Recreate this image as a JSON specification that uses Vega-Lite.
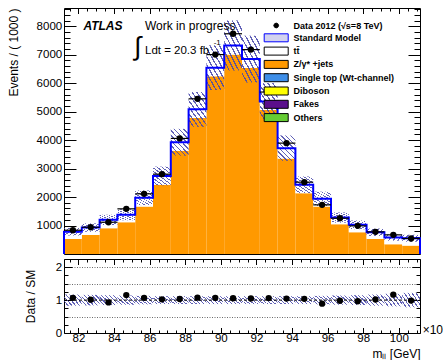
{
  "$schema": "https://vega.github.io/schema/vega-lite/v6.json",
  "background": "white",
  "padding": {"left": 6, "top": 7, "right": 0, "bottom": 0},
  "spacing": -1.5,
  "config": {
    "font": "Liberation Sans",
    "view": {"stroke": "black", "strokeWidth": 1},
    "axis": {
      "domain": false, "grid": false, "zindex": 1,
      "tickColor": "black", "tickWidth": 1,
      "labelFont": "Liberation Sans", "labelFontSize": 11.5, "labelColor": "black",
      "labelFlush": false, "labelOverlap": false,
      "titleFont": "Liberation Sans", "titleFontSize": 12, "titleFontWeight": "normal", "titleColor": "black"
    }
  },
  "resolve": {"legend": {"color": "independent", "shape": "independent", "stroke": "independent"}, "scale": {"color": "independent", "shape": "independent", "stroke": "independent"}},
  "datasets": {
    "bins": [
      {"lo": 81.19, "hi": 82.19, "c": 81.69, "data": 835, "sm": 782, "zj": 530, "smLo": 649, "smHi": 915, "ratio": 1.068, "rLo": 0.83, "rHi": 1.17},
      {"lo": 82.19, "hi": 83.19, "c": 82.69, "data": 940, "sm": 928, "zj": 671, "smLo": 780, "smHi": 1076, "ratio": 1.013, "rLo": 0.84, "rHi": 1.16},
      {"lo": 83.19, "hi": 84.19, "c": 83.69, "data": 1116, "sm": 1199, "zj": 905, "smLo": 1019, "smHi": 1379, "ratio": 0.931, "rLo": 0.85, "rHi": 1.15},
      {"lo": 84.19, "hi": 85.19, "c": 84.69, "data": 1586, "sm": 1375, "zj": 1116, "smLo": 1183, "smHi": 1568, "ratio": 1.153, "rLo": 0.86, "rHi": 1.14},
      {"lo": 85.19, "hi": 86.19, "c": 85.69, "data": 2114, "sm": 1975, "zj": 1667, "smLo": 1718, "smHi": 2232, "ratio": 1.070, "rLo": 0.87, "rHi": 1.13},
      {"lo": 86.19, "hi": 87.19, "c": 86.69, "data": 2803, "sm": 2740, "zj": 2430, "smLo": 2411, "smHi": 3069, "ratio": 1.023, "rLo": 0.88, "rHi": 1.12},
      {"lo": 87.19, "hi": 88.19, "c": 87.69, "data": 4059, "sm": 3925, "zj": 3626, "smLo": 3454, "smHi": 4396, "ratio": 1.034, "rLo": 0.88, "rHi": 1.12},
      {"lo": 88.19, "hi": 89.19, "c": 88.69, "data": 5450, "sm": 5080, "zj": 4780, "smLo": 4470, "smHi": 5690, "ratio": 1.073, "rLo": 0.88, "rHi": 1.12},
      {"lo": 89.19, "hi": 90.19, "c": 89.69, "data": 7003, "sm": 6545, "zj": 6240, "smLo": 5760, "smHi": 7330, "ratio": 1.070, "rLo": 0.88, "rHi": 1.12},
      {"lo": 90.19, "hi": 91.19, "c": 90.69, "data": 7735, "sm": 7325, "zj": 7003, "smLo": 6446, "smHi": 8204, "ratio": 1.056, "rLo": 0.88, "rHi": 1.12},
      {"lo": 91.19, "hi": 92.19, "c": 91.69, "data": 7179, "sm": 6845, "zj": 6532, "smLo": 6024, "smHi": 7666, "ratio": 1.049, "rLo": 0.88, "rHi": 1.12},
      {"lo": 92.19, "hi": 93.19, "c": 92.69, "data": 5688, "sm": 5360, "zj": 5060, "smLo": 4717, "smHi": 6003, "ratio": 1.061, "rLo": 0.88, "rHi": 1.12},
      {"lo": 93.19, "hi": 94.19, "c": 93.69, "data": 3894, "sm": 3718, "zj": 3350, "smLo": 3272, "smHi": 4164, "ratio": 1.047, "rLo": 0.88, "rHi": 1.12},
      {"lo": 94.19, "hi": 95.19, "c": 94.69, "data": 2523, "sm": 2431, "zj": 2135, "smLo": 2139, "smHi": 2723, "ratio": 1.038, "rLo": 0.88, "rHi": 1.12},
      {"lo": 95.19, "hi": 96.19, "c": 95.69, "data": 1726, "sm": 1937, "zj": 1667, "smLo": 1685, "smHi": 2189, "ratio": 0.891, "rLo": 0.87, "rHi": 1.13},
      {"lo": 96.19, "hi": 97.19, "c": 96.69, "data": 1256, "sm": 1280, "zj": 1045, "smLo": 1101, "smHi": 1459, "ratio": 0.981, "rLo": 0.86, "rHi": 1.14},
      {"lo": 97.19, "hi": 98.19, "c": 97.69, "data": 988, "sm": 1023, "zj": 764, "smLo": 870, "smHi": 1176, "ratio": 0.966, "rLo": 0.85, "rHi": 1.15},
      {"lo": 98.19, "hi": 99.19, "c": 98.69, "data": 778, "sm": 764, "zj": 531, "smLo": 634, "smHi": 894, "ratio": 1.018, "rLo": 0.83, "rHi": 1.17},
      {"lo": 99.19, "hi": 100.19, "c": 99.69, "data": 672, "sm": 577, "zj": 342, "smLo": 467, "smHi": 687, "ratio": 1.165, "rLo": 0.81, "rHi": 1.19},
      {"lo": 100.19, "hi": 101.19, "c": 100.69, "data": 545, "sm": 553, "zj": 295, "smLo": 431, "smHi": 675, "ratio": 0.986, "rLo": 0.78, "rHi": 1.22}
    ],
    "outline": [
      {"k": 0, "edge": 81.19, "sm": 0},
      {"k": 1, "edge": 81.19, "sm": 782},
      {"k": 2, "edge": 82.19, "sm": 928},
      {"k": 3, "edge": 83.19, "sm": 1199},
      {"k": 4, "edge": 84.19, "sm": 1375},
      {"k": 5, "edge": 85.19, "sm": 1975},
      {"k": 6, "edge": 86.19, "sm": 2740},
      {"k": 7, "edge": 87.19, "sm": 3925},
      {"k": 8, "edge": 88.19, "sm": 5080},
      {"k": 9, "edge": 89.19, "sm": 6545},
      {"k": 10, "edge": 90.19, "sm": 7325},
      {"k": 11, "edge": 91.19, "sm": 6845},
      {"k": 12, "edge": 92.19, "sm": 5360},
      {"k": 13, "edge": 93.19, "sm": 3718},
      {"k": 14, "edge": 94.19, "sm": 2431},
      {"k": 15, "edge": 95.19, "sm": 1937},
      {"k": 16, "edge": 96.19, "sm": 1280},
      {"k": 17, "edge": 97.19, "sm": 1023},
      {"k": 18, "edge": 98.19, "sm": 764},
      {"k": 19, "edge": 99.19, "sm": 577},
      {"k": 20, "edge": 100.19, "sm": 553},
      {"k": 21, "edge": 101.19, "sm": 553},
      {"k": 22, "edge": 101.19, "sm": 0}
    ],
    "processes": [
      {"name": "Data 2012 (√s=8 TeV)"},
      {"name": "Standard Model"},
      {"name": "tt̄"},
      {"name": "Z/γ* +jets"},
      {"name": "Single top (Wt-channel)"},
      {"name": "Diboson"},
      {"name": "Fakes"},
      {"name": "Others"}
    ]
  },
  "vconcat": [
    {
      "width": 356,
      "height": 246,
      "resolve": {"axis": {"x": "independent", "y": "independent"}},
      "layer": [
        {
          "data": {"name": "bins"},
          "mark": {"type": "rect", "fill": "#ff9900"},
          "encoding": {
            "x": {"field": "lo", "type": "quantitative", "scale": {"domain": [81.19, 101.19], "nice": false, "zero": false}, "axis": null},
            "x2": {"field": "hi"},
            "y": {"field": "zj", "type": "quantitative", "scale": {"domain": [0, 8640], "nice": false}, "axis": null},
            "y2": {"datum": 0}
          }
        },
        {
          "data": {"name": "bins"},
          "mark": {"type": "rect", "fill": "white"},
          "encoding": {
            "x": {"field": "lo", "type": "quantitative", "axis": null},
            "x2": {"field": "hi"},
            "y": {"field": "sm", "type": "quantitative", "axis": null},
            "y2": {"field": "zj"}
          }
        },
        {
          "data": {"name": "bins"},
          "mark": {
            "type": "rect",
            "fill": {
              "gradient": "linear", "x1": 0.15, "y1": 1, "x2": 0.85, "y2": 0,
              "stops": [
                {"offset": 0, "color": "rgba(255,255,255,0)"},
                {"offset": 0.04375, "color": "rgba(255,255,255,0)"}, {"offset": 0.04375, "color": "rgba(70,70,170,0.85)"}, {"offset": 0.08125, "color": "rgba(70,70,170,0.85)"}, {"offset": 0.08125, "color": "rgba(255,255,255,0)"},
                {"offset": 0.16875, "color": "rgba(255,255,255,0)"}, {"offset": 0.16875, "color": "rgba(70,70,170,0.85)"}, {"offset": 0.20625, "color": "rgba(70,70,170,0.85)"}, {"offset": 0.20625, "color": "rgba(255,255,255,0)"},
                {"offset": 0.29375, "color": "rgba(255,255,255,0)"}, {"offset": 0.29375, "color": "rgba(70,70,170,0.85)"}, {"offset": 0.33125, "color": "rgba(70,70,170,0.85)"}, {"offset": 0.33125, "color": "rgba(255,255,255,0)"},
                {"offset": 0.41875, "color": "rgba(255,255,255,0)"}, {"offset": 0.41875, "color": "rgba(70,70,170,0.85)"}, {"offset": 0.45625, "color": "rgba(70,70,170,0.85)"}, {"offset": 0.45625, "color": "rgba(255,255,255,0)"},
                {"offset": 0.54375, "color": "rgba(255,255,255,0)"}, {"offset": 0.54375, "color": "rgba(70,70,170,0.85)"}, {"offset": 0.58125, "color": "rgba(70,70,170,0.85)"}, {"offset": 0.58125, "color": "rgba(255,255,255,0)"},
                {"offset": 0.66875, "color": "rgba(255,255,255,0)"}, {"offset": 0.66875, "color": "rgba(70,70,170,0.85)"}, {"offset": 0.70625, "color": "rgba(70,70,170,0.85)"}, {"offset": 0.70625, "color": "rgba(255,255,255,0)"},
                {"offset": 0.79375, "color": "rgba(255,255,255,0)"}, {"offset": 0.79375, "color": "rgba(70,70,170,0.85)"}, {"offset": 0.83125, "color": "rgba(70,70,170,0.85)"}, {"offset": 0.83125, "color": "rgba(255,255,255,0)"},
                {"offset": 0.91875, "color": "rgba(255,255,255,0)"}, {"offset": 0.91875, "color": "rgba(70,70,170,0.85)"}, {"offset": 0.95625, "color": "rgba(70,70,170,0.85)"}, {"offset": 0.95625, "color": "rgba(255,255,255,0)"},
                {"offset": 1, "color": "rgba(255,255,255,0)"}
              ]
            }
          },
          "encoding": {
            "x": {"field": "lo", "type": "quantitative", "axis": null},
            "x2": {"field": "hi"},
            "y": {"field": "smLo", "type": "quantitative", "axis": null},
            "y2": {"field": "smHi"}
          }
        },
        {
          "data": {"name": "outline"},
          "mark": {"type": "line", "interpolate": "step-after", "stroke": "#0000ff", "strokeWidth": 2},
          "encoding": {
            "x": {"field": "edge", "type": "quantitative", "axis": null},
            "y": {"field": "sm", "type": "quantitative", "axis": null},
            "order": {"field": "k", "type": "quantitative"}
          }
        },
        {
          "data": {"name": "bins"},
          "mark": {"type": "rule", "stroke": "black", "strokeWidth": 1.2},
          "encoding": {
            "x": {"field": "lo", "type": "quantitative", "axis": null},
            "x2": {"field": "hi"},
            "y": {"field": "data", "type": "quantitative", "axis": null}
          }
        },
        {
          "data": {"name": "bins"},
          "mark": {"type": "circle", "size": 40, "fill": "black", "opacity": 1},
          "encoding": {
            "x": {"field": "c", "type": "quantitative", "axis": null},
            "y": {"field": "data", "type": "quantitative", "axis": null}
          }
        },
        {
          "data": {"name": "bins"},
          "mark": {"type": "point", "opacity": 0},
          "encoding": {
            "x": {"field": "c", "type": "quantitative", "axis": {"orient": "bottom", "values": [82, 84, 86, 88, 90, 92, 94, 96, 98, 100], "labels": false, "tickSize": -5.5, "title": null, "minExtent": 0, "maxExtent": 0}},
            "y": {"field": "sm", "type": "quantitative", "axis": {"orient": "left", "values": [1000, 2000, 3000, 4000, 5000, 6000, 7000, 8000], "format": "d", "tickSize": -12, "labelPadding": 14.3, "title": "Events / ( 1000 )", "titleX": -51, "titleY": 0, "titleAlign": "right", "titleBaseline": "middle"}}
          }
        },
        {
          "data": {"name": "bins"},
          "mark": {"type": "point", "opacity": 0},
          "encoding": {
            "x": {"field": "c", "type": "quantitative", "axis": {"orient": "bottom", "values": [81.5, 82, 82.5, 83, 83.5, 84, 84.5, 85, 85.5, 86, 86.5, 87, 87.5, 88, 88.5, 89, 89.5, 90, 90.5, 91, 91.5, 92, 92.5, 93, 93.5, 94, 94.5, 95, 95.5, 96, 96.5, 97, 97.5, 98, 98.5, 99, 99.5, 100, 100.5, 101], "labels": false, "tickSize": -3, "title": null, "minExtent": 0, "maxExtent": 0}},
            "y": {"field": "sm", "type": "quantitative", "axis": {"orient": "left", "values": [200, 400, 600, 800, 1000, 1200, 1400, 1600, 1800, 2000, 2200, 2400, 2600, 2800, 3000, 3200, 3400, 3600, 3800, 4000, 4200, 4400, 4600, 4800, 5000, 5200, 5400, 5600, 5800, 6000, 6200, 6400, 6600, 6800, 7000, 7200, 7400, 7600, 7800, 8000, 8200, 8400, 8600], "labels": false, "tickSize": -6, "title": null, "minExtent": 0, "maxExtent": 0}}
          }
        },
        {
          "data": {"name": "bins"},
          "mark": {"type": "point", "opacity": 0},
          "encoding": {
            "x": {"field": "c", "type": "quantitative", "axis": {"orient": "top", "values": [82, 84, 86, 88, 90, 92, 94, 96, 98, 100], "labels": false, "tickSize": -5.5, "title": null, "minExtent": 0, "maxExtent": 0}},
            "y": {"field": "sm", "type": "quantitative", "axis": {"orient": "right", "values": [1000, 2000, 3000, 4000, 5000, 6000, 7000, 8000], "labels": false, "tickSize": -12, "title": null, "minExtent": 0, "maxExtent": 0}}
          }
        },
        {
          "data": {"name": "bins"},
          "mark": {"type": "point", "opacity": 0},
          "encoding": {
            "x": {"field": "c", "type": "quantitative", "axis": {"orient": "top", "values": [81.5, 82, 82.5, 83, 83.5, 84, 84.5, 85, 85.5, 86, 86.5, 87, 87.5, 88, 88.5, 89, 89.5, 90, 90.5, 91, 91.5, 92, 92.5, 93, 93.5, 94, 94.5, 95, 95.5, 96, 96.5, 97, 97.5, 98, 98.5, 99, 99.5, 100, 100.5, 101], "labels": false, "tickSize": -3, "title": null, "minExtent": 0, "maxExtent": 0}},
            "y": {"field": "sm", "type": "quantitative", "axis": {"orient": "right", "values": [200, 400, 600, 800, 1000, 1200, 1400, 1600, 1800, 2000, 2200, 2400, 2600, 2800, 3000, 3200, 3400, 3600, 3800, 4000, 4200, 4400, 4600, 4800, 5000, 5200, 5400, 5600, 5800, 6000, 6200, 6400, 6600, 6800, 7000, 7200, 7400, 7600, 7800, 8000, 8200, 8400, 8600], "labels": false, "tickSize": -6, "title": null, "minExtent": 0, "maxExtent": 0}}
          }
        },
        {
          "data": {"name": "processes"},
          "mark": {"type": "point", "filled": true, "opacity": 0},
          "encoding": {
            "x": {"datum": 90, "type": "quantitative", "axis": null},
            "y": {"datum": 4000, "type": "quantitative", "axis": null},
            "color": {
              "field": "name", "type": "nominal",
              "scale": {
                "domain": ["Data 2012 (√s=8 TeV)", "Standard Model", "tt̄", "Z/γ* +jets", "Single top (Wt-channel)", "Diboson", "Fakes", "Others"],
                "range": ["black", "#d2d2ee", "white", "#ff9900", "#3e8ee8", "#ffff00", "#5b0f8c", "#66cc33"]
              },
              "legend": {
                "orient": "none", "legendX": 207.7, "legendY": 13, "title": null, "padding": 0,
                "labelFont": "Liberation Sans", "labelFontSize": 9, "labelFontWeight": "bold", "labelColor": "black",
                "labelOffset": 12.7, "labelLimit": 250, "rowPadding": 0.3,
                "symbolOpacity": 1, "symbolSize": 64, "symbolStrokeWidth": 1
              }
            },
            "shape": {
              "field": "name", "type": "nominal",
              "scale": {
                "domain": ["Data 2012 (√s=8 TeV)", "Standard Model", "tt̄", "Z/γ* +jets", "Single top (Wt-channel)", "Diboson", "Fakes", "Others"],
                "range": ["M-0.6,0L-0.42,-0.42L0,-0.6L0.42,-0.42L0.6,0L0.42,0.42L0,0.6L-0.42,0.42Z", "M-3,-1H3V1H-3Z", "M-3,-1H3V1H-3Z", "M-3,-1H3V1H-3Z", "M-3,-1H3V1H-3Z", "M-3,-1H3V1H-3Z", "M-3,-1H3V1H-3Z", "M-3,-1H3V1H-3Z"]
              },
              "legend": {
                "orient": "none", "legendX": 207.7, "legendY": 13, "title": null, "padding": 0,
                "labelFont": "Liberation Sans", "labelFontSize": 9, "labelFontWeight": "bold", "labelColor": "black",
                "labelOffset": 12.7, "labelLimit": 250, "rowPadding": 0.3,
                "symbolOpacity": 1, "symbolSize": 64, "symbolStrokeWidth": 1
              }
            },
            "stroke": {
              "field": "name", "type": "nominal",
              "scale": {
                "domain": ["Data 2012 (√s=8 TeV)", "Standard Model", "tt̄", "Z/γ* +jets", "Single top (Wt-channel)", "Diboson", "Fakes", "Others"],
                "range": ["black", "#0000ff", "black", "black", "black", "black", "black", "black"]
              },
              "legend": {
                "orient": "none", "legendX": 207.7, "legendY": 13, "title": null, "padding": 0,
                "labelFont": "Liberation Sans", "labelFontSize": 9, "labelFontWeight": "bold", "labelColor": "black",
                "labelOffset": 12.7, "labelLimit": 250, "rowPadding": 0.3,
                "symbolOpacity": 1, "symbolSize": 64, "symbolStrokeWidth": 1
              }
            }
          }
        },
        {
          "data": {"values": [{}]},
          "mark": {"type": "text", "text": "ATLAS", "font": "Liberation Sans", "fontSize": 12, "fontStyle": "italic", "fontWeight": "bold", "align": "left", "baseline": "alphabetic", "color": "black"},
          "encoding": {
            "x": {"datum": 82.28, "type": "quantitative", "axis": null},
            "y": {"datum": 7856, "type": "quantitative", "axis": null}
          }
        },
        {
          "data": {"values": [{}]},
          "mark": {"type": "text", "text": "Work in progress", "font": "Liberation Sans", "fontSize": 12, "align": "left", "baseline": "alphabetic", "color": "black"},
          "encoding": {
            "x": {"datum": 85.74, "type": "quantitative", "axis": null},
            "y": {"datum": 7850, "type": "quantitative", "axis": null}
          }
        },
        {
          "data": {"values": [{}]},
          "mark": {"type": "text", "text": "∫", "font": "Liberation Sans", "fontSize": 26, "align": "center", "baseline": "middle", "color": "black"},
          "encoding": {
            "x": {"datum": 85.32, "type": "quantitative", "axis": null},
            "y": {"datum": 7270, "type": "quantitative", "axis": null}
          }
        },
        {
          "data": {"values": [{}]},
          "mark": {"type": "text", "text": "Ldt = 20.3 fb", "font": "Liberation Sans", "fontSize": 11.5, "align": "left", "baseline": "alphabetic", "color": "black"},
          "encoding": {
            "x": {"datum": 85.74, "type": "quantitative", "axis": null},
            "y": {"datum": 7014, "type": "quantitative", "axis": null}
          }
        },
        {
          "data": {"values": [{}]},
          "mark": {"type": "text", "text": "-1", "font": "Liberation Sans", "fontSize": 8, "align": "left", "baseline": "alphabetic", "color": "black"},
          "encoding": {
            "x": {"datum": 89.6, "type": "quantitative", "axis": null},
            "y": {"datum": 7340, "type": "quantitative", "axis": null}
          }
        }
      ]
    },
    {
      "width": 356,
      "height": 74,
      "resolve": {"axis": {"x": "independent", "y": "independent"}},
      "layer": [
        {
          "data": {"name": "bins"},
          "mark": {
            "type": "rect",
            "fill": {
              "gradient": "linear", "x1": 0, "y1": 0.78, "x2": 1, "y2": 0.22,
              "stops": [
                {"offset": 0, "color": "rgba(255,255,255,0)"},
                {"offset": 0.0583, "color": "rgba(255,255,255,0)"}, {"offset": 0.0583, "color": "rgba(70,70,170,0.85)"}, {"offset": 0.1083, "color": "rgba(70,70,170,0.85)"}, {"offset": 0.1083, "color": "rgba(255,255,255,0)"},
                {"offset": 0.225, "color": "rgba(255,255,255,0)"}, {"offset": 0.225, "color": "rgba(70,70,170,0.85)"}, {"offset": 0.275, "color": "rgba(70,70,170,0.85)"}, {"offset": 0.275, "color": "rgba(255,255,255,0)"},
                {"offset": 0.3917, "color": "rgba(255,255,255,0)"}, {"offset": 0.3917, "color": "rgba(70,70,170,0.85)"}, {"offset": 0.4417, "color": "rgba(70,70,170,0.85)"}, {"offset": 0.4417, "color": "rgba(255,255,255,0)"},
                {"offset": 0.5583, "color": "rgba(255,255,255,0)"}, {"offset": 0.5583, "color": "rgba(70,70,170,0.85)"}, {"offset": 0.6083, "color": "rgba(70,70,170,0.85)"}, {"offset": 0.6083, "color": "rgba(255,255,255,0)"},
                {"offset": 0.725, "color": "rgba(255,255,255,0)"}, {"offset": 0.725, "color": "rgba(70,70,170,0.85)"}, {"offset": 0.775, "color": "rgba(70,70,170,0.85)"}, {"offset": 0.775, "color": "rgba(255,255,255,0)"},
                {"offset": 0.8917, "color": "rgba(255,255,255,0)"}, {"offset": 0.8917, "color": "rgba(70,70,170,0.85)"}, {"offset": 0.9417, "color": "rgba(70,70,170,0.85)"}, {"offset": 0.9417, "color": "rgba(255,255,255,0)"},
                {"offset": 1, "color": "rgba(255,255,255,0)"}
              ]
            }
          },
          "encoding": {
            "x": {"field": "lo", "type": "quantitative", "scale": {"domain": [81.19, 101.19], "nice": false, "zero": false}, "axis": null},
            "x2": {"field": "hi"},
            "y": {"field": "rLo", "type": "quantitative", "scale": {"domain": [0, 2.25], "nice": false}, "axis": null},
            "y2": {"field": "rHi"}
          }
        },
        {
          "data": {"name": "bins"},
          "mark": {"type": "point", "opacity": 0},
          "encoding": {
            "x": {"field": "c", "type": "quantitative", "axis": null},
            "y": {"field": "ratio", "type": "quantitative", "axis": {"orient": "left", "values": [0.5, 1.5, 2], "grid": true, "gridDash": [1, 1.5], "gridColor": "#444444", "gridWidth": 0.8, "ticks": false, "labels": false, "title": null, "zindex": 0, "minExtent": 0, "maxExtent": 0}}
          }
        },
        {
          "data": {"values": [{}]},
          "mark": {"type": "rule", "stroke": "black", "strokeWidth": 1, "strokeDash": [3, 2]},
          "encoding": {
            "x": {"datum": 81.19, "type": "quantitative", "axis": null},
            "x2": {"datum": 101.19},
            "y": {"datum": 1, "type": "quantitative", "axis": null}
          }
        },
        {
          "data": {"name": "bins"},
          "mark": {"type": "circle", "size": 40, "fill": "black", "opacity": 1},
          "encoding": {
            "x": {"field": "c", "type": "quantitative", "axis": null},
            "y": {"field": "ratio", "type": "quantitative", "axis": null}
          }
        },
        {
          "data": {"name": "bins"},
          "mark": {"type": "point", "opacity": 0},
          "encoding": {
            "x": {"field": "c", "type": "quantitative", "axis": {"orient": "bottom", "values": [82, 84, 86, 88, 90, 92, 94, 96, 98, 100], "tickSize": -5.5, "labelPadding": 4.5, "title": "mₗₗ [GeV]", "titleAnchor": "end", "titleAlign": "right", "titleX": 356, "titleY": 24, "titleBaseline": "alphabetic"}},
            "y": {"field": "ratio", "type": "quantitative", "axis": {"orient": "left", "values": [0, 1, 2], "tickSize": -8, "labelPadding": 10.3, "title": "Data / SM", "titleX": -34, "titleY": 37, "titleAlign": "center", "titleBaseline": "middle"}}
          }
        },
        {
          "data": {"name": "bins"},
          "mark": {"type": "point", "opacity": 0},
          "encoding": {
            "x": {"field": "c", "type": "quantitative", "axis": {"orient": "bottom", "values": [81.5, 82, 82.5, 83, 83.5, 84, 84.5, 85, 85.5, 86, 86.5, 87, 87.5, 88, 88.5, 89, 89.5, 90, 90.5, 91, 91.5, 92, 92.5, 93, 93.5, 94, 94.5, 95, 95.5, 96, 96.5, 97, 97.5, 98, 98.5, 99, 99.5, 100, 100.5, 101], "labels": false, "tickSize": -3, "title": null, "minExtent": 0, "maxExtent": 0}},
            "y": {"field": "ratio", "type": "quantitative", "axis": {"orient": "left", "values": [0.25, 0.5, 0.75, 1.25, 1.5, 1.75, 2.25], "labels": false, "tickSize": -4, "title": null, "minExtent": 0, "maxExtent": 0}}
          }
        },
        {
          "data": {"name": "bins"},
          "mark": {"type": "point", "opacity": 0},
          "encoding": {
            "x": {"field": "c", "type": "quantitative", "axis": {"orient": "top", "values": [82, 84, 86, 88, 90, 92, 94, 96, 98, 100], "labels": false, "tickSize": -5.5, "title": null, "minExtent": 0, "maxExtent": 0}},
            "y": {"field": "ratio", "type": "quantitative", "axis": {"orient": "right", "values": [0, 1, 2], "labels": false, "tickSize": -8, "title": null, "minExtent": 0, "maxExtent": 0}}
          }
        },
        {
          "data": {"name": "bins"},
          "mark": {"type": "point", "opacity": 0},
          "encoding": {
            "x": {"field": "c", "type": "quantitative", "axis": {"orient": "top", "values": [81.5, 82, 82.5, 83, 83.5, 84, 84.5, 85, 85.5, 86, 86.5, 87, 87.5, 88, 88.5, 89, 89.5, 90, 90.5, 91, 91.5, 92, 92.5, 93, 93.5, 94, 94.5, 95, 95.5, 96, 96.5, 97, 97.5, 98, 98.5, 99, 99.5, 100, 100.5, 101], "labels": false, "tickSize": -3, "title": null, "minExtent": 0, "maxExtent": 0}},
            "y": {"field": "ratio", "type": "quantitative", "axis": {"orient": "right", "values": [0.25, 0.5, 0.75, 1.25, 1.5, 1.75, 2.25], "labels": false, "tickSize": -4, "title": null, "minExtent": 0, "maxExtent": 0}}
          }
        },
        {
          "data": {"values": [{}]},
          "mark": {"type": "text", "text": "×10³", "font": "Liberation Sans", "fontSize": 12, "align": "left", "baseline": "alphabetic", "color": "black"},
          "encoding": {
            "x": {"datum": 101.34, "type": "quantitative", "axis": null},
            "y": {"datum": -0.03, "type": "quantitative", "axis": null}
          }
        }
      ]
    }
  ]
}
